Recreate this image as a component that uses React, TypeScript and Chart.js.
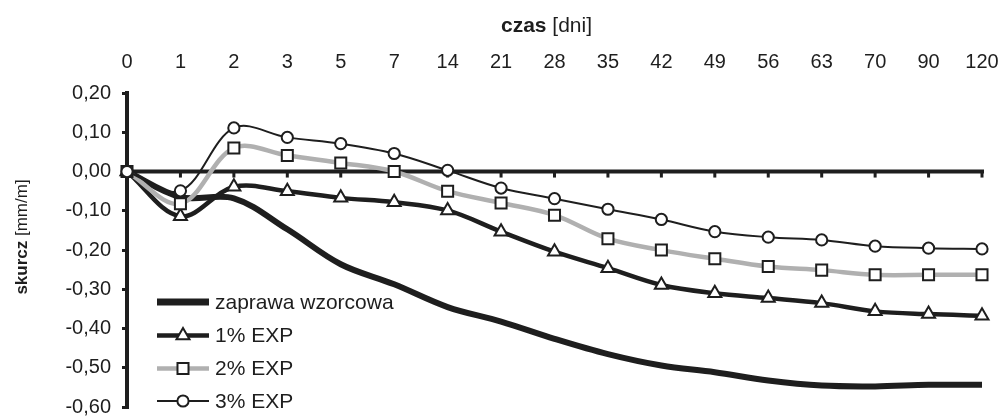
import React, { useEffect, useRef } from "react";
import { Chart, registerables } from "chart.js";

Chart.register(...registerables);

const days = ["0", "1", "2", "3", "5", "7", "14", "21", "28", "35", "42", "49", "56", "63", "70", "90", "120"];

const zaprawaWzorcowa = [0, -0.065, -0.068, -0.147, -0.236, -0.287, -0.345, -0.382, -0.426, -0.465, -0.494, -0.511, -0.532, -0.545, -0.547, -0.543, -0.543];
const exp1 = [0, -0.114, -0.039, -0.05, -0.067, -0.078, -0.099, -0.153, -0.204, -0.246, -0.289, -0.31, -0.322, -0.335, -0.356, -0.363, -0.367];
const exp2 = [0, -0.082, 0.06, 0.041, 0.022, 0.0, -0.05, -0.08, -0.111, -0.171, -0.2, -0.222, -0.242, -0.251, -0.263, -0.263, -0.263];
const exp3 = [0, -0.049, 0.111, 0.087, 0.071, 0.046, 0.003, -0.042, -0.069, -0.096, -0.122, -0.153, -0.167, -0.174, -0.19, -0.195, -0.197];

const seriesNames = ["zaprawa wzorcowa", "1% EXP", "2% EXP", "3% EXP"];

const FONT = "'Liberation Sans', Arial, Helvetica, sans-serif";
const INK = "#1e1e1e";
const GRAY = "#b0b0b0";

function drawMarker(ctx: CanvasRenderingContext2D, style: string, x: number, y: number, r: number) {
  ctx.beginPath();
  if (style === "triangle") {
    let rad = 0;
    ctx.moveTo(x + Math.sin(rad) * r, y - Math.cos(rad) * r);
    rad += (2 * Math.PI) / 3;
    ctx.lineTo(x + Math.sin(rad) * r, y - Math.cos(rad) * r);
    rad += (2 * Math.PI) / 3;
    ctx.lineTo(x + Math.sin(rad) * r, y - Math.cos(rad) * r);
    ctx.closePath();
  } else if (style === "rect") {
    const s = Math.SQRT1_2 * r;
    ctx.rect(x - s, y - s, 2 * s, 2 * s);
  } else {
    ctx.arc(x, y, r, 0, Math.PI * 2);
  }
  ctx.fill();
  ctx.stroke();
}

const zeroLinePlugin = {
  id: "zeroLine",
  beforeDatasetsDraw(chart: any) {
    const { ctx, chartArea, scales } = chart;
    const y0 = scales.y.getPixelForValue(0);
    ctx.save();
    ctx.strokeStyle = INK;
    ctx.lineWidth = 4;
    ctx.beginPath();
    ctx.moveTo(chartArea.left, y0);
    ctx.lineTo(chartArea.right + 2, y0);
    ctx.stroke();
    ctx.lineWidth = 3;
    const n = scales.x.ticks.length;
    for (let i = 0; i < n; i++) {
      const x = scales.x.getPixelForTick(i);
      ctx.beginPath();
      ctx.moveTo(x, y0);
      ctx.lineTo(x, y0 + 6);
      ctx.stroke();
    }
    ctx.restore();
  },
};

const titlesPlugin = {
  id: "titlesLegend",
  afterDraw(chart: any) {
    const { ctx, chartArea } = chart;
    ctx.save();
    ctx.fillStyle = INK;
    ctx.textBaseline = "middle";
    // x title
    const boldX = "bold 21px " + FONT;
    const normX = "21px " + FONT;
    ctx.font = boldX;
    const w1 = ctx.measureText("czas").width;
    ctx.font = normX;
    const w2 = ctx.measureText(" [dni]").width;
    const cx = (chartArea.left + chartArea.right) / 2 - 8;
    const sx = cx - (w1 + w2) / 2;
    ctx.textAlign = "left";
    ctx.font = boldX;
    ctx.fillText("czas", sx, 26);
    ctx.font = normX;
    ctx.fillText(" [dni]", sx + w1, 26);

    // y title
    const boldY = "bold 17px " + FONT;
    const normY = "17px " + FONT;
    ctx.font = boldY;
    const v1 = ctx.measureText("skurcz").width;
    ctx.font = normY;
    const v2 = ctx.measureText(" [mm/m]").width;
    ctx.translate(22, 237);
    ctx.rotate(-Math.PI / 2);
    const sy = -(v1 + v2) / 2;
    ctx.font = boldY;
    ctx.fillText("skurcz", sy, 0);
    ctx.font = normY;
    ctx.fillText(" [mm/m]", sy + v1, 0);
    ctx.restore();

    // legend
    ctx.save();
    const rows = [302, 335.5, 368.5, 401];
    chart.data.datasets.forEach((ds: any, i: number) => {
      const y = rows[i];
      ctx.strokeStyle = ds.borderColor;
      ctx.lineWidth = i === 0 ? 7 : ds.borderWidth;
      ctx.lineCap = "butt";
      ctx.beginPath();
      ctx.moveTo(157, y);
      ctx.lineTo(209, y);
      ctx.stroke();
      if (ds.pointRadius > 0) {
        ctx.fillStyle = ds.pointBackgroundColor;
        ctx.strokeStyle = ds.pointBorderColor;
        ctx.lineWidth = ds.pointBorderWidth;
        drawMarker(ctx, ds.pointStyle, 183, y, ds.pointRadius);
      }
      ctx.fillStyle = INK;
      ctx.font = "21px " + FONT;
      ctx.textAlign = "left";
      ctx.textBaseline = "middle";
      ctx.fillText(ds.label, 215, y + 1);
    });
    ctx.restore();
  },
};

function fmt(v: number) {
  const val = Math.abs(v) < 1e-9 ? 0 : v;
  return val.toFixed(2).replace(".", ",");
}

export default function App() {
  const ref = useRef<HTMLCanvasElement | null>(null);

  useEffect(() => {
    if (!ref.current) return;
    const common = {
      tension: 0.35,
      clip: false as any,
      pointBackgroundColor: "#ffffff",
      pointBorderColor: INK,
      pointBorderWidth: 2,
      fill: false,
    };
    const chart = new Chart(ref.current, {
      type: "line",
      data: {
        labels: days,
        datasets: [
          { ...common, label: seriesNames[0], data: zaprawaWzorcowa, borderColor: INK, borderWidth: 6, pointRadius: 0, pointStyle: "circle", order: 4 },
          { ...common, label: seriesNames[1], data: exp1, borderColor: INK, borderWidth: 4.5, pointRadius: 7.5, pointStyle: "triangle", order: 3 },
          { ...common, label: seriesNames[2], data: exp2, borderColor: GRAY, borderWidth: 4.5, pointRadius: 7.8, pointStyle: "rect", order: 2 },
          { ...common, label: seriesNames[3], data: exp3, borderColor: INK, borderWidth: 2, pointRadius: 5.6, pointStyle: "circle", order: 1 },
        ] as any,
      },
      options: {
        animation: false,
        responsive: true,
        maintainAspectRatio: false,
        layout: { padding: { left: 0, top: 0, right: 20, bottom: 8 } },
        plugins: {
          legend: { display: false },
          tooltip: { enabled: false },
          title: { display: false },
        },
        scales: {
          x: {
            type: "category",
            position: "top",
            offset: false,
            grid: { display: false, drawTicks: false },
            border: { display: false },
            ticks: {
              autoSkip: false,
              maxRotation: 0,
              color: INK,
              padding: 19,
              font: { family: FONT, size: 20 },
            },
            afterFit(scale: any) {
              scale.height = 93;
              scale.paddingLeft = 0;
              scale.paddingRight = 0;
              scale.paddingTop = 0;
              scale.paddingBottom = 0;
            },
          },
          y: {
            min: -0.6,
            max: 0.2,
            grid: { drawOnChartArea: false, drawTicks: true, tickLength: 5, color: INK, lineWidth: 3 },
            border: { display: true, color: INK, width: 4 },
            ticks: {
              stepSize: 0.1,
              color: INK,
              padding: 11,
              font: { family: FONT, size: 20 },
              callback: (v: any) => fmt(Number(v)),
            },
            afterFit(scale: any) {
              scale.width = 127;
              scale.paddingLeft = 0;
              scale.paddingRight = 0;
              scale.paddingTop = 0;
              scale.paddingBottom = 0;
            },
          },
        },
      } as any,
      plugins: [zeroLinePlugin, titlesPlugin],
    });
    return () => chart.destroy();
  }, []);

  return (
    <div style={{ position: "absolute", left: 0, top: 0, width: 1002, height: 417, background: "#fff" }}>
      <canvas ref={ref} />
    </div>
  );
}
